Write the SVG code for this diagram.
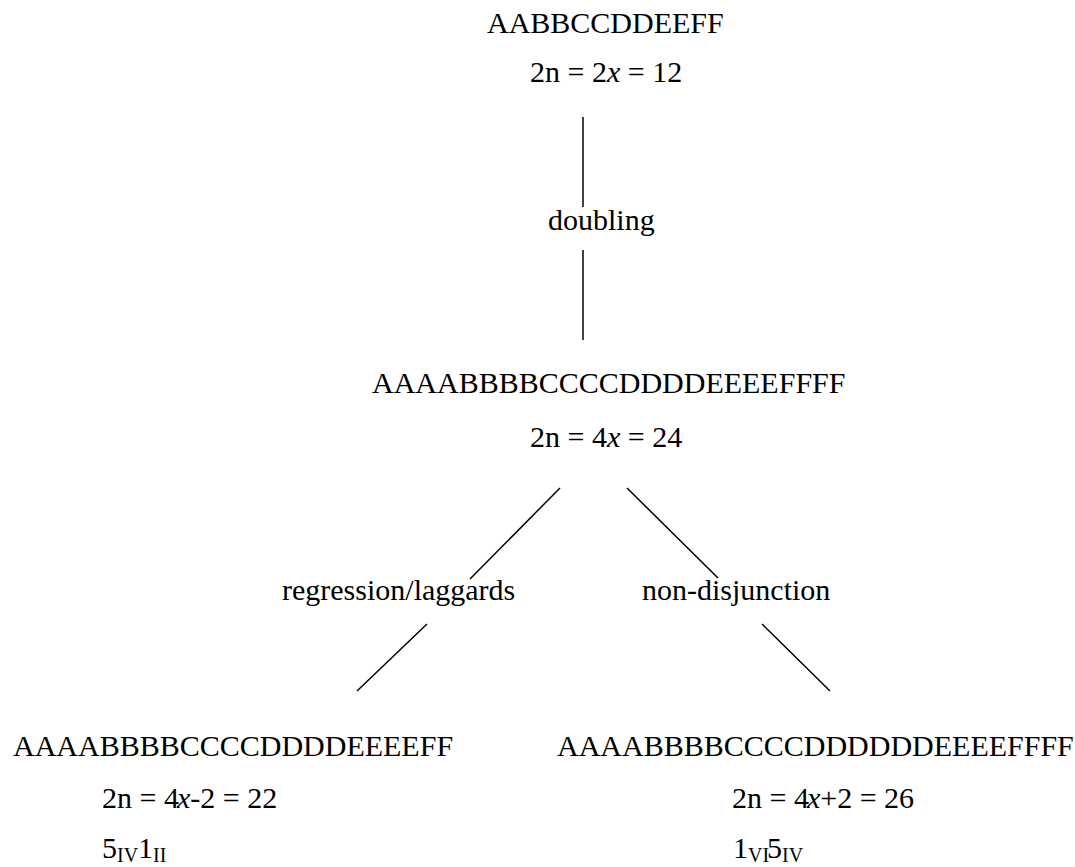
<svg xmlns="http://www.w3.org/2000/svg" width="1075" height="867" viewBox="0 0 1075 867">
<style>
  text { font-family: "Liberation Serif", Tinos, "Times New Roman", "DejaVu Serif", serif; font-size: 30px; fill: #000; }
  .sub { font-size: 20px; }
  .it { font-style: italic; }
  .conn line { stroke: #000; stroke-width: 1.5; fill: none; }
</style>
<rect width="1075" height="867" fill="#fff"/>
<g id="connectors" class="conn">
  <line x1="583" y1="117" x2="583" y2="207"/>
  <line x1="583" y1="250" x2="583" y2="340"/>
  <line x1="560" y1="488" x2="470" y2="579"/>
  <line x1="627" y1="488" x2="718" y2="578"/>
  <line x1="427" y1="624" x2="357" y2="691"/>
  <line x1="762" y1="624" x2="830" y2="691"/>
</g>
<g font-family="Liberation Serif, Tinos, Times New Roman, serif">
<g id="node-diploid">
  <text x="487" y="33">AABBCCDDEEFF</text>
  <text x="530" y="82">2n = 2<tspan class="it">x</tspan> = 12</text>
</g>
<g id="label-doubling">
  <text x="548" y="230">doubling</text>
</g>
<g id="node-tetraploid">
  <text x="372" y="393">AAAABBBBCCCCDDDDEEEEFFFF</text>
  <text x="530" y="447">2n = 4<tspan class="it">x</tspan> = 24</text>
</g>
<g id="label-regression">
  <text x="282" y="600">regression/laggards</text>
</g>
<g id="label-nondisjunction">
  <text x="642" y="600">non-disjunction</text>
</g>
<g id="node-hypo">
  <text x="13" y="756">AAAABBBBCCCCDDDDEEEEFF</text>
  <text x="102" y="808">2n = 4<tspan class="it" dx="-2">x</tspan>-2 = 22</text>
  <text x="102" y="858">5<tspan class="sub" dy="4">IV</tspan><tspan dy="-4">1</tspan><tspan class="sub" dy="4">II</tspan></text>
</g>
<g id="node-hyper">
  <text x="557" y="756">AAAABBBBCCCCDDDDDDEEEEFFFF</text>
  <text x="732" y="808">2n = 4<tspan class="it" dx="-2">x</tspan>+2 = 26</text>
  <text x="733" y="858">1<tspan class="sub" dy="4">VI</tspan><tspan dy="-4" dx="-2">5</tspan><tspan class="sub" dy="4">IV</tspan></text>
</g>
</g>
</svg>
